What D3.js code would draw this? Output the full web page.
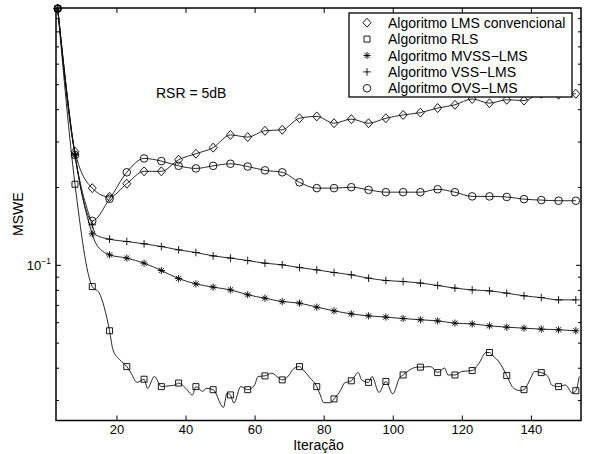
<!DOCTYPE html>
<html>
<head>
<meta charset="utf-8">
<script src="https://cdn.jsdelivr.net/npm/d3@7"></script>
<style>
  body { margin: 0; background: #fff; }
  svg  { display: block; font-family: "Liberation Sans", Arial, Helvetica, sans-serif; }
</style>
</head>
<body>
<svg id="chart" width="589" height="454"></svg>
<script>
// ── Data (MSWE vs. iteration, log scale) ───────────────────────────────────
const markerIter = [3, 8, 13, 18, 23, 28, 33, 38, 43, 48, 53, 58, 63, 68, 73, 78,
                    83, 88, 93, 98, 103, 108, 113, 118, 123, 128, 133, 138, 143, 148, 153];

const lmsIter = markerIter;
const lmsY = [0.98, 0.274, 0.198, 0.183, 0.206, 0.230, 0.230, 0.255, 0.269, 0.284, 0.318,
              0.312, 0.330, 0.333, 0.369, 0.375, 0.353, 0.366, 0.353, 0.369, 0.380, 0.388,
              0.404, 0.416, 0.438, 0.422, 0.435, 0.432, 0.459, 0.455, 0.459];

const ovsIter = markerIter;
const ovsY = [0.98, 0.266, 0.148, 0.180, 0.228, 0.258, 0.252, 0.2415, 0.236, 0.2415, 0.246,
              0.240, 0.232, 0.228, 0.2085, 0.198, 0.198, 0.1997, 0.195, 0.191, 0.191, 0.191,
              0.196, 0.191, 0.184, 0.184, 0.183, 0.1795, 0.178, 0.177, 0.177];

const vssIter = [3, 8, 13, 14, 18, 23, 28, 33, 38, 43, 48, 53, 58, 63, 68, 73, 78,
                 83, 88, 93, 98, 103, 108, 113, 118, 123, 128, 133, 138, 143, 148, 153];
const vssY = [0.98, 0.266, 0.1428, 0.1306, 0.1257, 0.1231, 0.1206, 0.1177, 0.1143, 0.1116,
              0.1083, 0.1062, 0.1039, 0.1015, 0.100, 0.0976, 0.0956, 0.0934, 0.0915, 0.0888,
              0.0870, 0.0862, 0.0850, 0.0832, 0.0813, 0.0800, 0.0793, 0.0777, 0.0759, 0.0747,
              0.0732, 0.0732];

const mvssIter = vssIter;
const mvssY = [0.98, 0.266, 0.1318, 0.1213, 0.1093, 0.1062, 0.1015, 0.0951, 0.0885, 0.0844,
               0.0820, 0.0800, 0.0766, 0.0743, 0.0721, 0.0711, 0.0686, 0.0664, 0.0646, 0.0635,
               0.0628, 0.0620, 0.0613, 0.0607, 0.0595, 0.0591, 0.0581, 0.0574, 0.0569, 0.0564,
               0.0561, 0.0556];

const rlsIter = [3, 8, 13, 15, 18, 19, 21, 23, 24, 26, 28, 29, 31, 33, 35, 37, 38, 40, 42, 43,
                 45, 46, 48, 51, 52, 53, 54, 56, 58, 60, 61, 63, 65, 67, 68, 70, 71, 73, 74, 76,
                 78, 79, 80, 82, 83, 85, 86, 88, 90, 91, 93, 94, 96, 98, 100, 102, 103, 105, 107,
                 108, 111, 113, 115, 116, 118, 120, 123, 125, 127, 128, 129, 131, 133, 135, 137,
                 138, 140, 141, 143, 145, 146, 148, 150, 152, 153, 154];
const rlsY = [0.98, 0.205, 0.0824, 0.0779, 0.0556, 0.0469, 0.0429, 0.0404, 0.0386, 0.0351,
              0.0361, 0.0333, 0.0370, 0.0338, 0.0340, 0.0343, 0.0349, 0.0334, 0.0314, 0.0338,
              0.0324, 0.0333, 0.0329, 0.0281, 0.0319, 0.0314, 0.0292, 0.0338, 0.0329, 0.0343,
              0.0370, 0.0372, 0.0381, 0.0365, 0.0359, 0.0375, 0.0393, 0.0404, 0.0393, 0.0366,
              0.0338, 0.0314, 0.0293, 0.0293, 0.0303, 0.0329, 0.0349, 0.0356, 0.0383, 0.0359,
              0.0351, 0.0370, 0.0321, 0.0354, 0.0317, 0.0366, 0.0375, 0.0393, 0.0402, 0.0402,
              0.0404, 0.0383, 0.0399, 0.0375, 0.0375, 0.0387, 0.0390, 0.0417, 0.0458, 0.0458,
              0.0445, 0.0417, 0.0373, 0.0333, 0.0326, 0.0329, 0.0366, 0.0387, 0.0383, 0.0369,
              0.0343, 0.0338, 0.0343, 0.0319, 0.0326, 0.0370];

const xTicks      = [20, 40, 60, 80, 100, 120, 140];
const yMajorTicks = [0.1];
const yMinorTicks = [0.03, 0.04, 0.05, 0.06, 0.07, 0.08, 0.09,
                     0.2, 0.3, 0.4, 0.5, 0.6, 0.7, 0.8, 0.9];

// order = legend order
const series = [
  { name: "Algoritmo LMS convencional", iter: lmsIter,  vals: lmsY,  mark: "diamond" },
  { name: "Algoritmo RLS",              iter: rlsIter,  vals: rlsY,  mark: "square"  },
  { name: "Algoritmo MVSS\u2212LMS",    iter: mvssIter, vals: mvssY, mark: "star"    },
  { name: "Algoritmo VSS\u2212LMS",     iter: vssIter,  vals: vssY,  mark: "plus"    },
  { name: "Algoritmo OVS\u2212LMS",     iter: ovsIter,  vals: ovsY,  mark: "circle"  },
];

// ── Layout ──────────────────────────────────────────────────────────────────
const P = { left: 56, right: 581, top: 8, bottom: 420.5 };

const svg = d3.select("#chart");
const x = d3.scaleLinear().domain([2.5, 154.5]).range([P.left, P.right]);
const y = d3.scaleLog().domain([0.025, 0.985]).range([P.bottom, P.top]);

const markPath = {
  diamond: "M0,-4.5L4,0L0,4.5L-4,0Z",
  square:  "M-3,-3H3V3H-3Z",
  star:    "M-3.6,0H3.6M0,-3.6V3.6M-2.6,-2.6L2.6,2.6M-2.6,2.6L2.6,-2.6",
  plus:    "M-3.8,0H3.8M0,-3.8V3.8",
  circle:  "M3.8,0A3.8,3.8 0 1,1 -3.8,0A3.8,3.8 0 1,1 3.8,0Z",
};

// ── Lines + markers ─────────────────────────────────────────────────────────
const line = d3.line()
  .x(d => x(d[0])).y(d => y(d[1]))
  .curve(d3.curveMonotoneX);

const plot = svg.append("g");
series.forEach(s => {
  const pts = s.iter.map((it, i) => [it, s.vals[i]]);
  plot.append("path")
    .attr("d", line(pts))
    .attr("fill", "none").attr("stroke", "#111").attr("stroke-width", 0.9);
  plot.append("g").selectAll("path")
    .data(pts.filter(p => markerIter.includes(p[0])))
    .join("path")
    .attr("transform", d => `translate(${x(d[0])},${y(d[1])})`)
    .attr("d", markPath[s.mark])
    .attr("fill", "none").attr("stroke", "#000").attr("stroke-width", 0.9);
});

// ── Axes (MATLAB style: inward ticks on all four sides) ────────────────────
const ax = svg.append("g");
function strip(g) { g.select(".domain").remove(); g.selectAll("line").attr("stroke", "#000"); }

ax.append("g").attr("transform", `translate(0,${P.bottom})`)
  .call(d3.axisBottom(x).tickValues(xTicks).tickSize(-5).tickPadding(4))
  .call(strip)
  .call(g => g.selectAll("text").attr("font-size", 13).attr("font-family", null).attr("fill", "#000"));
ax.append("g").attr("transform", `translate(0,${P.top})`)
  .call(d3.axisTop(x).tickValues(xTicks).tickSize(-5).tickFormat(""))
  .call(strip);

[[d3.axisLeft, P.left], [d3.axisRight, P.right]].forEach(([axis, pos]) => {
  ax.append("g").attr("transform", `translate(${pos},0)`)
    .call(axis(y).tickValues(yMajorTicks).tickSize(-5).tickFormat(""))
    .call(strip);
  ax.append("g").attr("transform", `translate(${pos},0)`)
    .call(axis(y).tickValues(yMinorTicks).tickSize(-3).tickFormat(""))
    .call(strip);
});

// 10^-1 label
const lbl = ax.append("text").attr("x", P.left - 5).attr("y", y(0.1) + 5)
  .attr("text-anchor", "end").attr("font-size", 13);
lbl.append("tspan").text("10");
lbl.append("tspan").attr("dy", -5.5).attr("font-size", 8.5).text("\u22121");

ax.append("rect")
  .attr("x", P.left).attr("y", P.top)
  .attr("width", P.right - P.left).attr("height", P.bottom - P.top)
  .attr("fill", "none").attr("stroke", "#000").attr("stroke-width", 1.5);

// Axis titles
svg.append("text")
  .attr("x", (P.left + P.right) / 2).attr("y", 450)
  .attr("text-anchor", "middle").attr("font-size", 14).text("Itera\u00e7\u00e3o");
svg.append("text")
  .attr("transform", `translate(23,${(P.top + P.bottom) / 2}) rotate(-90)`)
  .attr("text-anchor", "middle").attr("font-size", 14).text("MSWE");

svg.append("text")
  .attr("x", 156).attr("y", 98)
  .attr("font-size", 14).text("RSR = 5dB");

// ── Legend ─────────────────────────────────────────────────────────────────
const leg = svg.append("g").attr("transform", "translate(349,13)");
leg.append("rect")
  .attr("width", 223).attr("height", 84)
  .attr("fill", "#fff").attr("stroke", "#000").attr("stroke-width", 1.3);
series.forEach((s, i) => {
  const row = leg.append("g").attr("transform", `translate(0,${9.7 + i * 16.4})`);
  row.append("path").attr("transform", "translate(18,0)")
    .attr("d", markPath[s.mark])
    .attr("fill", "none").attr("stroke", "#000").attr("stroke-width", 0.9);
  row.append("text").attr("x", 39).attr("dy", "0.36em")
    .attr("font-size", 14).text(s.name);
});
</script>
</body>
</html>
